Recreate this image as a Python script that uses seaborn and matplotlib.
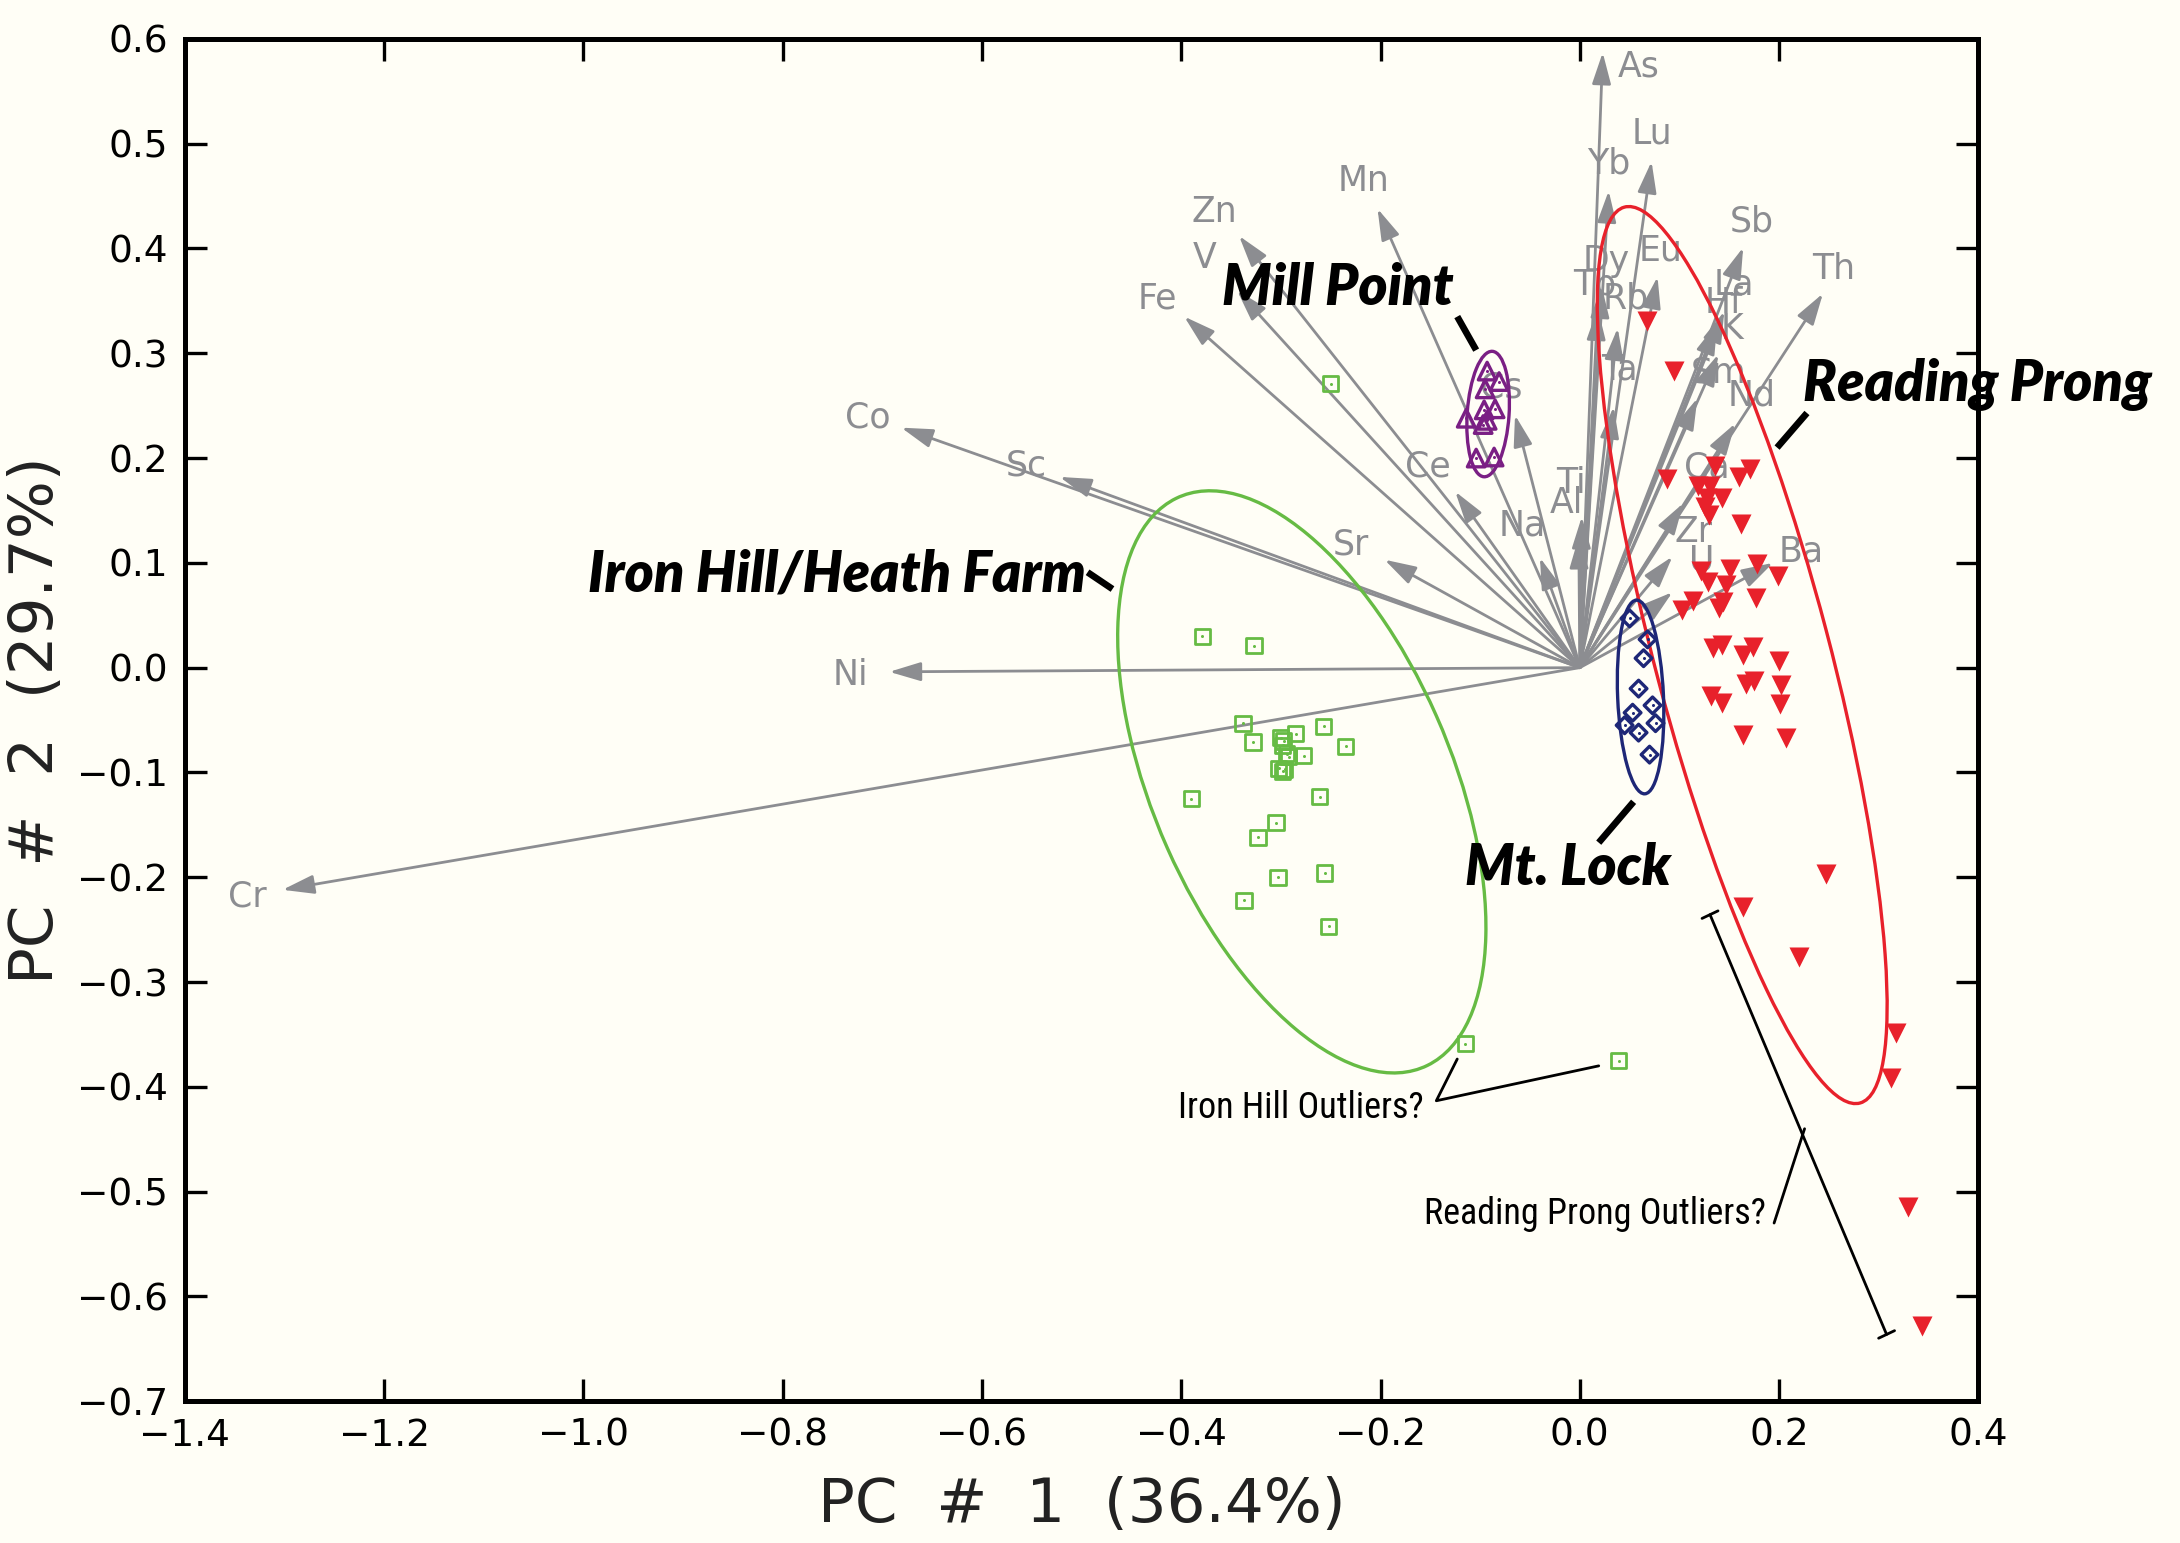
import numpy as np
import pandas as pd
import matplotlib
matplotlib.use("Agg")
import matplotlib.pyplot as plt
import seaborn as sns
from matplotlib.patches import Ellipse

# ---------------- data ----------------
elements = ["As", "Lu", "Yb", "Sb", "Th", "Eu", "Dy", "Tb", "Rb", "Ta", "La", "Hf", "K",
            "Sm", "Nd", "Ca", "Zr", "U", "Ba", "Ti", "Al", "Na", "Cs", "Ce", "Sr", "Mn",
            "Zn", "V", "Fe", "Co", "Sc", "Ni", "Cr"]
load_pc1 = [0.023, 0.072, 0.029, 0.164, 0.244, 0.078, 0.022, 0.018, 0.038, 0.034, 0.145, 0.138, 0.139,
            0.118, 0.156, 0.104, 0.093, 0.093, 0.194, 0.002, -0.001, -0.040, -0.065, -0.125, -0.196, -0.203,
            -0.342, -0.344, -0.397, -0.681, -0.522, -0.693, -1.302]
load_pc2 = [0.587, 0.483, 0.455, 0.401, 0.357, 0.373, 0.364, 0.343, 0.324, 0.249, 0.340, 0.329, 0.299,
            0.257, 0.233, 0.157, 0.106, 0.072, 0.100, 0.144, 0.125, 0.105, 0.241, 0.168, 0.103, 0.438,
            0.412, 0.360, 0.335, 0.229, 0.182, -0.004, -0.212]

rp_pc1 = [0.088, 0.136, 0.171, 0.160, 0.119, 0.131, 0.143, 0.128, 0.126, 0.130, 0.162, 0.122, 0.151,
          0.178, 0.199, 0.129, 0.147, 0.103, 0.114, 0.140, 0.144, 0.177, 0.134, 0.143, 0.164, 0.174,
          0.200, 0.167, 0.175, 0.202, 0.132, 0.143, 0.201, 0.164, 0.207, 0.067, 0.095, 0.247, 0.164,
          0.220, 0.317, 0.312, 0.329, 0.343]
rp_pc2 = [0.180, 0.192, 0.190, 0.182, 0.173, 0.173, 0.162, 0.162, 0.153, 0.146, 0.137, 0.092, 0.094,
          0.099, 0.087, 0.082, 0.079, 0.055, 0.064, 0.057, 0.063, 0.066, 0.019, 0.022, 0.012, 0.020,
          0.006, -0.016, -0.013, -0.017, -0.027, -0.034, -0.035, -0.064, -0.067, 0.331, 0.283, -0.197,
          -0.228, -0.276, -0.349, -0.392, -0.515, -0.628]

ih_pc1 = [-0.379, -0.327, -0.338, -0.328, -0.300, -0.285, -0.257, -0.235, -0.297, -0.294, -0.277,
          -0.302, -0.296, -0.390, -0.261, -0.305, -0.323, -0.303, -0.256, -0.337, -0.252, -0.250,
          -0.115, 0.039, -0.298, -0.292, -0.298]
ih_pc2 = [0.030, 0.021, -0.053, -0.071, -0.067, -0.063, -0.056, -0.075, -0.070, -0.082, -0.084,
          -0.096, -0.097, -0.125, -0.123, -0.148, -0.162, -0.200, -0.196, -0.222, -0.247, 0.271,
          -0.359, -0.375, -0.074, -0.085, -0.099]

ml_pc1 = [0.050, 0.068, 0.064, 0.059, 0.073, 0.053, 0.076, 0.045, 0.059, 0.070]
ml_pc2 = [0.047, 0.027, 0.009, -0.020, -0.036, -0.043, -0.053, -0.055, -0.062, -0.083]

mp_pc1 = [-0.093, -0.081, -0.095, -0.096, -0.085, -0.114, -0.093, -0.097, -0.104, -0.086]
mp_pc2 = [0.283, 0.273, 0.266, 0.246, 0.247, 0.238, 0.236, 0.232, 0.200, 0.201]

# group confidence ellipses: centre, full axes, angle (deg)
ell_groups = ["Iron Hill", "Reading Prong", "Mt. Lock", "Mill Point"]
ell_cx = [-0.279, 0.163, 0.061, -0.092]
ell_cy = [-0.109, 0.012, -0.028, 0.242]
ell_w = [0.597, 0.887, 0.185, 0.120]
ell_h = [0.298, 0.175, 0.046, 0.042]
ell_ang = [-65.0, -74.5, -87.4, 85.9]

x_ticks = [-1.4, -1.2, -1.0, -0.8, -0.6, -0.4, -0.2, 0.0, 0.2, 0.4]
y_ticks = [0.6, 0.5, 0.4, 0.3, 0.2, 0.1, 0.0, -0.1, -0.2, -0.3, -0.4, -0.5, -0.6, -0.7]

# ---------------- style ----------------
BG = "#FFFEF6"
GRAY = "#8C8D91"
RED = "#E8212B"
GREEN = "#66BB44"
BLUE = "#1E2777"
PURPLE = "#7A1F84"

sns.set_theme(style="ticks")
plt.rcParams["font.family"] = ["DejaVu Sans"]

# label offsets (points) relative to arrow tips
lab_off = {"As": (13, -5), "Lu": (0, 10), "Yb": (0, 10), "Sb": (3, 9.5), "Th": (4, 9), "Eu": (1, 9.5),
           "Dy": (1.5, 9), "Tb": (-1, 8.5), "Rb": (3, 10.5), "Ta": (2, 13.5), "La": (3.5, 9.5),
           "Hf": (2.5, 7), "K": (5, 9), "Sm": (7.5, 9.3), "Nd": (6, 10), "Ca": (8.5, 13),
           "Zr": (7.7, 8.7), "U": (10.7, 11.3), "Ba": (10, 4), "Ti": (-4, 12), "Al": (-4.5, 12),
           "Na": (-6.5, 11.5), "Cs": (-5, 10), "Ce": (-10, 9), "Sr": (-12, 5.5), "Mn": (-5, 10),
           "Zn": (-9, 8.5), "V": (-11.5, 11.5), "Fe": (-9.5, 6.5), "Co": (-12, 3.5), "Sc": (-12, 4),
           "Ni": (-14, -1), "Cr": (-12.5, -2.5)}

fig = plt.figure(figsize=(10.9, 7.715), dpi=200, facecolor=BG)
ax = fig.add_axes([0.0848, 0.0919, 0.8227, 0.8829])
ax.set_facecolor(BG)

# arrows (loadings)
load = pd.DataFrame({"el": elements, "pc1": load_pc1, "pc2": load_pc2})
for _, r in load.iterrows():
    ax.annotate("", xy=(r.pc1, r.pc2), xytext=(0, 0),
                arrowprops=dict(arrowstyle="-|>,head_length=0.8,head_width=0.24",
                                color=GRAY, lw=1.0, shrinkA=0, shrinkB=0, mutation_scale=12),
                zorder=2)
    dx, dy = lab_off.get(r.el, (0, 8))
    ax.annotate(r.el, xy=(r.pc1, r.pc2), xytext=(dx, dy), textcoords="offset points",
                ha="center", va="center", fontsize=12.5, color=GRAY, zorder=1.5)

# ellipses
ell_cols = [GREEN, RED, BLUE, PURPLE]
for cx, cy, w, h, a, c in zip(ell_cx, ell_cy, ell_w, ell_h, ell_ang, ell_cols):
    ax.add_patch(Ellipse((cx, cy), w, h, angle=a, fill=False, ec=c, lw=1.2, zorder=3))

# scores
sns.scatterplot(x=ih_pc1, y=ih_pc2, marker="s", s=30, facecolor="none", edgecolor=GREEN,
                linewidth=1.0, ax=ax, zorder=4)
sns.scatterplot(x=ih_pc1, y=ih_pc2, marker="o", s=1.2, color=GREEN, linewidth=0, ax=ax, zorder=4)
sns.scatterplot(x=rp_pc1, y=rp_pc2, marker="v", s=52, color=RED, linewidth=0, ax=ax, zorder=4)
sns.scatterplot(x=ml_pc1, y=ml_pc2, marker="D", s=18, facecolor="none", edgecolor=BLUE,
                linewidth=1.2, ax=ax, zorder=4)
sns.scatterplot(x=ml_pc1, y=ml_pc2, marker="o", s=1.2, color=BLUE, linewidth=0, ax=ax, zorder=4)
sns.scatterplot(x=mp_pc1, y=mp_pc2, marker="^", s=40, facecolor="none", edgecolor=PURPLE,
                linewidth=1.2, ax=ax, zorder=4)
sns.scatterplot(x=mp_pc1, y=mp_pc2, marker="o", s=1.2, color=PURPLE, linewidth=0, ax=ax, zorder=4)

# group annotations
big = dict(fontsize=20, fontweight="heavy", fontstyle="italic", color="black",
           family=["Lato", "DejaVu Sans"], ha="center", va="center", zorder=6)
lk = dict(color="black", lw=2.4, solid_capstyle="butt", zorder=6)
ax.text(-0.243, 0.362, "Mill Point", **big)
ax.plot([-0.123, -0.104], [0.335, 0.303], **lk)
ax.text(-0.7455, 0.089, "Iron Hill/Heath Farm", **big)
ax.plot([-0.494, -0.469], [0.091, 0.075], **lk)
ax.text(0.399, 0.270, "Reading Prong", **big)
ax.plot([0.228, 0.198], [0.243, 0.210], **lk)
ax.text(-0.012, -0.191, "Mt. Lock", **big)
ax.plot([0.019, 0.054], [-0.167, -0.128], **lk)

small = dict(fontsize=13, color="black",
             family=["Roboto Condensed", "Open Sans Condensed", "Liberation Sans Narrow", "Roboto"],
             fontstretch="condensed", ha="center", va="center", zorder=6)
ax.text(-0.2795, -0.420, "Iron Hill Outliers?", **small)
ax.plot([-0.123, -0.144, 0.019], [-0.3735, -0.4133, -0.380], color="black", lw=1.0, zorder=6)
ax.text(0.015, -0.521, "Reading Prong Outliers?", **small)
ax.plot([0.195, 0.2256], [-0.530, -0.440], color="black", lw=1.0, zorder=6)
# bracket
bx = np.array([0.1307, 0.3079]); by = np.array([-0.2357, -0.6363])
ax.plot(bx, by, color="black", lw=1.0, zorder=6)
for px, py in zip(bx, by):
    ax.plot([px - 0.008, px + 0.008], [py - 0.0036, py + 0.0036], color="black", lw=1.0, zorder=6)

# axes
ax.set_xlim(-1.4, 0.4)
ax.set_ylim(-0.7, 0.6)
ax.set_xticks(x_ticks)
ax.set_yticks(y_ticks)
ax.set_xticklabels([f"{v:.1f}".replace("-", "\u2212") for v in x_ticks])
ax.set_yticklabels([f"{v:.1f}".replace("-", "\u2212") for v in y_ticks])
ax.tick_params(direction="in", length=8, width=1.2, labelsize=13.5, colors="black",
               top=True, right=True, pad=6)
for s in ax.spines.values():
    s.set_linewidth(1.8)
    s.set_color("black")
    s.set_visible(True)
ax.set_xlabel("PC  #  1  (36.4%)", fontsize=22, labelpad=8, color="#222222")
ax.set_ylabel("PC  #  2  (29.7%)", fontsize=22, labelpad=4, color="#222222")

fig.savefig("out.png", dpi=200, facecolor=BG)
